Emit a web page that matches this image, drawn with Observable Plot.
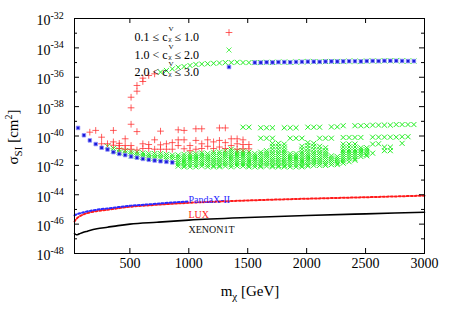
<!DOCTYPE html>
<html><head><meta charset="utf-8">
<script src="https://cdn.jsdelivr.net/npm/d3@7"></script>
<script src="https://cdn.jsdelivr.net/npm/@observablehq/plot@0.6"></script>
<style>
html,body{margin:0;padding:0;background:#fff}
svg{font-family:"Liberation Serif","DejaVu Serif",serif}
</style>
</head><body><div id="chart"></div>
<script>
// ---------- data ----------
const xTicks = [500, 1000, 1500, 2000, 2500, 3000];
const yMajorExp = [-48, -46, -44, -42, -40, -38, -36, -34, -32];
const yMinorExp = [-47, -45, -43, -41, -39, -37, -35, -33];

const legendLead = ["0.1 \u2264 c", "1.0 < c", "2.0 < c"];
const legendTail = ["\u2264 1.0", "\u2264 2.0", "\u2264 3.0"];
const curveNames = ["PandaX-II", "LUX", "XENON1T"];

// [mass GeV, log10 sigma]
const pandax = [[30,-45.4],[60,-45.3],[110,-45.19],[160,-45.1],[220,-45.02],[310,-44.93],[400,-44.84],[500,-44.75],[600,-44.69],[730,-44.61],[850,-44.53],[1000,-44.46]];
const lux = [[30,-45.82],[45,-45.65],[70,-45.48],[100,-45.36],[140,-45.25],[200,-45.14],[310,-45.02],[400,-44.92],[500,-44.82],[730,-44.68],[1000,-44.55],[1500,-44.39],[2000,-44.27],[2500,-44.17],[3000,-44.06]];
const xenon = [[30,-46.64],[45,-46.72],[60,-46.7],[80,-46.63],[100,-46.57],[140,-46.48],[220,-46.32],[310,-46.21],[400,-46.1],[500,-46.0],[730,-45.87],[1000,-45.73],[1500,-45.55],[2000,-45.41],[2500,-45.3],[3000,-45.19]];

// 0.1 <= c <= 1.0
const redPts = [[510,-39.2],[510,-38.08],[510,-37.36],[560,-39.7],[560,-36.95],[560,-36.56],[610,-36.29],[610,-36.06],[660,-35.88],[710,-35.77],
[160,-39.74],[210,-39.62],[260,-40.08],[260,-40.53],[310,-40.53],[360,-39.62],[360,-40.4],[360,-40.63],[410,-40.5],[410,-40.65],[410,-40.85],
[460,-40.19],[460,-40.65],[460,-40.9],[510,-40.65],[510,-40.9],[560,-40.95],[610,-40.53],[610,-40.85],[660,-40.58],[660,-40.85],[710,-40.26],[710,-40.9],
[760,-39.67],[760,-40.6],[760,-40.9],[810,-40.53],[810,-40.9],[860,-40.45],[860,-40.9],[910,-39.58],[910,-40.26],[910,-40.65],[960,-39.62],[960,-40.26],[960,-40.87],
[1010,-40.65],[1010,-41.0],[1060,-39.51],[1060,-40.3],[1060,-40.9],[1110,-39.51],[1110,-40.53],[1110,-40.85],[1160,-40.26],[1160,-40.7],[1210,-40.4],[1210,-40.85],
[1260,-39.45],[1260,-40.3],[1260,-40.75],[1310,-39.45],[1310,-40.45],[1310,-40.85],[1360,-40.19],[1360,-40.65],[1410,-40.19],[1410,-40.53],[1410,-40.9],
[1460,-40.26],[1460,-40.58],[1460,-40.87],[1510,-40.58],[1510,-40.87]];

// 2.0 < c <= 3.0
const bluePts = [[60,-39.45],[110,-39.95],[160,-40.3],[210,-40.55],[260,-40.8],[310,-40.92],[360,-41.1],[410,-41.22],[460,-41.3],[510,-41.4],[560,-41.48],[610,-41.56],[660,-41.62],[710,-41.67],[760,-41.72],[810,-41.76],[860,-41.8],
[1560,-35.0],[1610,-35.0],[1660,-34.98],[1710,-34.99],[1760,-34.97],[1810,-34.97],[1860,-34.98],[1910,-34.96],[1960,-34.95],[2010,-34.94],[2060,-34.94],[2110,-34.95],[2160,-34.93],[2210,-34.92],[2260,-34.93],[2310,-34.92],[2360,-34.91],[2410,-34.91],[2460,-34.92],[2510,-34.9],[2560,-34.89],[2610,-34.9],[2660,-34.88],[2710,-34.88],[2760,-34.88],[2810,-34.89],[2860,-34.9],[2910,-34.9]];

// 1.0 < c <= 2.0 : scattered rows
const greenPts = [[760,-35.65],[810,-35.54],[860,-35.43],[910,-35.32],[960,-35.27],[1010,-35.2],[1060,-35.13],[1110,-35.1],[1160,-35.08],[1210,-35.05],[1260,-35.03],[1310,-35.0],[1360,-35.0],[1410,-34.98],[1460,-35.0],[1510,-35.0],
[1560,-35.0],[1610,-35.0],[1660,-34.98],[1710,-34.99],[1760,-34.97],[1810,-34.97],[1860,-34.98],[1910,-34.96],[1960,-34.95],[2010,-34.94],[2060,-34.94],[2110,-34.95],[2160,-34.93],[2210,-34.92],[2260,-34.93],[2310,-34.92],[2360,-34.91],[2410,-34.91],[2460,-34.92],[2510,-34.9],[2560,-34.89],[2610,-34.9],[2660,-34.88],[2710,-34.88],[2760,-34.88],[2810,-34.89],[2860,-34.9],[2910,-34.9],
[1460,-39.4],[1510,-39.4],[1610,-39.44],[1660,-39.44],[1710,-39.44],[1810,-39.44],[1860,-39.44],[1910,-39.44],[2010,-39.4],[2060,-39.4],[2110,-39.4],[2210,-39.38],[2260,-39.38],[2310,-39.3],[2410,-39.3],[2460,-39.3],[2510,-39.3],[2560,-39.26],[2610,-39.26],[2660,-39.26],[2710,-39.26],[2760,-39.22],[2810,-39.22],[2860,-39.22],[2910,-39.22],
[1610,-40.15],[1660,-40.15],[1710,-40.15],[1860,-40.15],[1910,-40.15],[1960,-40.15],[2110,-40.15],[2160,-40.15],[2210,-40.15],[2310,-40.1],[2360,-40.1],[2410,-40.1],[2460,-40.1],[2560,-40.08],[2610,-40.08],[2660,-40.08],[2710,-40.08],[2760,-40.08],[2810,-40.05],[2860,-40.05],
[2560,-40.55],[2560,-41.17],[2610,-40.53],[2660,-40.76],[2660,-41.0],[2710,-40.76],[2710,-41.0],[2810,-40.5]];

// 1.0 < c <= 2.0 : dense band, per mass column
const greenCols = [
[310,[-40.7]],[360,[-40.85,-41.0]],[410,[-40.95,-41.1]],[460,[-41.0,-41.15]],[510,[-41.05,-41.2,-41.35]],[560,[-41.1,-41.25,-41.4]],
[610,[-41.15,-41.3,-41.45]],[660,[-41.2,-41.35,-41.5]],[710,[-41.2,-41.35,-41.5]],[760,[-41.2,-41.35,-41.5]],[810,[-41.25,-41.4,-41.55]],[860,[-41.3,-41.45,-41.6]],
[910,[-41.3,-41.45,-41.6,-41.75,-41.9,-42.05]],
[960,[-41.25,-41.4,-41.55,-41.7,-41.85,-42.0,-42.1]],
[1010,[-41.2,-41.35,-41.5,-41.65,-41.8,-41.95,-42.1]],
[1060,[-41.2,-41.35,-41.5,-41.65,-41.8,-41.95,-42.1]],
[1110,[-41.15,-41.3,-41.45,-41.6,-41.75,-41.9,-42.05]],
[1160,[-41.2,-41.35,-41.5,-41.65,-41.8,-41.95,-42.1]],
[1210,[-41.1,-41.25,-41.4,-41.55,-41.7,-41.85,-42.0,-42.1]],
[1260,[-41.1,-41.25,-41.4,-41.55,-41.7,-41.85,-42.0,-42.1]],
[1310,[-41.0,-41.15,-41.3,-41.45,-41.6,-41.75,-41.9,-42.05]],
[1360,[-40.9,-41.05,-41.2,-41.35,-41.5,-41.65,-41.8,-41.95,-42.1]],
[1410,[-41.0,-41.15,-41.3,-41.45,-41.6,-41.75,-41.9,-42.05]],
[1460,[-41.0,-41.15,-41.3,-41.45,-41.6,-41.75,-41.9,-42.05]],
[1510,[-41.1,-41.25,-41.4,-41.55,-41.7,-41.85,-42.0,-42.1]],
[1560,[-41.2,-41.35,-41.5,-41.65,-41.8,-41.95,-42.1]],
[1610,[-41.1,-41.25,-41.4,-41.55,-41.7,-41.85,-42.0,-42.1]],
[1660,[-41.0,-41.15,-41.3,-41.45,-41.6,-41.75,-41.9,-42.05]],
[1710,[-40.5,-40.7,-40.9,-41.1,-41.25,-41.4,-41.55,-41.7,-41.85,-42.0,-42.1]],
[1760,[-40.5,-40.7,-40.9,-41.1,-41.25,-41.4,-41.55,-41.7,-41.85,-42.0,-42.1]],
[1810,[-40.55,-40.75,-40.95,-41.1,-41.25,-41.4,-41.55,-41.7,-41.85,-42.0,-42.1]],
[1860,[-41.2,-41.35,-41.5,-41.65,-41.8,-41.95,-42.1]],
[1910,[-41.2,-41.35,-41.5,-41.65,-41.8,-41.95,-42.1]],
[1960,[-40.7,-40.9,-41.1,-41.25,-41.4,-41.55,-41.7,-41.85,-42.0,-42.1]],
[2010,[-40.45,-40.65,-40.85,-41.05,-41.2,-41.35,-41.5,-41.65,-41.8,-41.95,-42.05]],
[2060,[-40.5,-40.7,-40.9,-41.1,-41.25,-41.4,-41.55,-41.7,-41.85,-42.0]],
[2110,[-40.7,-40.9,-41.1,-41.25,-41.4,-41.55,-41.7,-41.85,-42.0]],
[2160,[-40.8,-41.0,-41.15,-41.3,-41.45,-41.6,-41.75,-41.9,-42.0]],
[2210,[-41.35,-41.5,-41.65,-41.8,-41.95]],
[2260,[-41.4,-41.55,-41.7,-41.85,-41.95]],
[2310,[-40.55,-40.75,-40.95,-41.1,-41.25,-41.4,-41.55,-41.7,-41.85]],
[2360,[-40.55,-40.75,-40.95,-41.1,-41.25,-41.4,-41.55,-41.75]],
[2410,[-40.55,-40.75,-40.95,-41.1,-41.25,-41.4,-41.55,-41.65]],
[2460,[-40.8,-40.95,-41.1,-41.25,-41.4]],
[2510,[-40.8,-40.95,-41.1,-41.25,-41.35]]];

// ---------- layout ----------
const W = 452, H = 316, mL = 74, mT = 18, mR = 28, mB = 63;
const fw = W - mL - mR, fh = H - mT - mB;
const greenBand = greenCols.flatMap(([m, ls]) => ls.map(l => [m, l]));
const P = d => 10 ** d[1];
const ink = "#000";
const cRed = "#ff2a2a", cGreen = "#22ee22", cBlue = "#1a1ad8", cBlueEdge = "#9090ff";

const legendColors = [cRed, cGreen, cBlue];
const legendSymbols = ["plus", "times", "square"];
const rowDy = [14, 31.5, 49];

const legendMarks = legendLead.flatMap((lead, i) => [
  Plot.text([lead], {frameAnchor: "top-left", text: d => d, dx: 93, dy: rowDy[i], textAnchor: "end", fontSize: 12, fill: ink}),
  Plot.text(["V"], {frameAnchor: "top-left", text: d => d, dx: 94, dy: rowDy[i] - 6, textAnchor: "start", fontSize: 7, fill: ink}),
  Plot.text(["\u03c7"], {frameAnchor: "top-left", text: d => d, dx: 94, dy: rowDy[i] + 3.8, textAnchor: "start", fontSize: 7, fill: ink}),
  Plot.text([legendTail[i]], {frameAnchor: "top-left", text: d => d, dx: 100, dy: rowDy[i], textAnchor: "start", fontSize: 12, fill: ink}),
  i === 2
    ? Plot.dot([0], {frameAnchor: "top-left", dx: 154.5, dy: rowDy[i] - 0.5, symbol: "square", r: 2.0, fill: cBlue, stroke: cBlueEdge, strokeWidth: 0.8})
    : Plot.dot([0], {frameAnchor: "top-left", dx: 154.5, dy: rowDy[i], symbol: legendSymbols[i], r: i === 0 ? 2.3 : 2.4, stroke: legendColors[i], strokeWidth: 1, strokeOpacity: 0.75})
]);

const curveColors = ["#2a2aff", "#ff1a1a", "#111"];
const curveDy = [177, 192.7, 207];
const curveLabelMarks = curveNames.map((n, i) =>
  Plot.text([n], {frameAnchor: "top-left", text: d => d, dx: 114, dy: curveDy[i], textAnchor: "start", fontSize: 10, fill: curveColors[i]}));

const chart = Plot.plot({
  width: W, height: H,
  marginLeft: mL, marginTop: mT, marginRight: mR, marginBottom: mB,
  x: {domain: [30, 3000], axis: null},
  y: {type: "log", domain: [1e-48, 1e-32], axis: null},
  style: {fontFamily: "'Liberation Serif', 'DejaVu Serif', serif", background: "#fff", overflow: "visible"},
  marks: [
    // data points
    Plot.dot(greenBand, {x: d => d[0], y: P, symbol: "times", r: 2.4, stroke: cGreen, strokeWidth: 1}),
    Plot.dot(greenPts, {x: d => d[0], y: P, symbol: "times", r: 2.4, stroke: cGreen, strokeWidth: 1}),
    Plot.dot(redPts, {x: d => d[0], y: P, symbol: "plus", r: 2.3, stroke: cRed, strokeWidth: 1, strokeOpacity: 0.75}),
    Plot.dot(bluePts, {x: d => d[0], y: P, symbol: "square", r: 2.0, fill: cBlue, stroke: cBlueEdge, strokeWidth: 0.8}),
    // exclusion limits
    Plot.line(xenon, {x: d => d[0], y: P, stroke: "#000", strokeWidth: 1.6, curve: "monotone-x"}),
    Plot.line(lux, {x: d => d[0], y: P, stroke: "#ff1a1a", strokeWidth: 2, strokeDasharray: "2,2", curve: "monotone-x"}),
    Plot.line(pandax, {x: d => d[0], y: P, stroke: "#2a2aff", strokeWidth: 2, strokeDasharray: "2,2", curve: "monotone-x"}),
    // frame & inward ticks
    Plot.frame({stroke: ink, strokeWidth: 1}),
    Plot.tickY(yMajorExp, {y: d => 10 ** d, insetRight: fw - 5, stroke: ink}),
    Plot.tickY(yMajorExp, {y: d => 10 ** d, insetLeft: fw - 5, stroke: ink}),
    Plot.tickY(yMinorExp, {y: d => 10 ** d, insetRight: fw - 3, stroke: ink}),
    Plot.tickY(yMinorExp, {y: d => 10 ** d, insetLeft: fw - 3, stroke: ink}),
    Plot.tickX(xTicks, {x: d => d, insetTop: fh - 5, stroke: ink}),
    Plot.tickX(xTicks, {x: d => d, insetBottom: fh - 5, stroke: ink}),
    // tick labels
    Plot.text(xTicks, {x: d => d, frameAnchor: "bottom", text: d => String(d), dy: 14, fontSize: 14, fill: ink}),
    Plot.text(yMajorExp, {y: d => 10 ** d, frameAnchor: "left", text: () => "10", textAnchor: "end", dx: -24, dy: 2.5, fontSize: 14, fill: ink}),
    Plot.text(yMajorExp, {y: d => 10 ** d, frameAnchor: "left", text: d => String(d), textAnchor: "start", dx: -24, dy: -3, fontSize: 10, fill: ink}),
    ...curveLabelMarks,
    ...legendMarks
  ]
});

const svg = d3.select(chart);
const xt = svg.append("text").attr("x", 250).attr("y", 296).attr("text-anchor", "middle")
  .attr("font-size", 15).attr("fill", ink);
xt.append("tspan").text("m");
xt.append("tspan").attr("dy", 4).attr("font-size", 11).text("\u03c7");
xt.append("tspan").attr("dy", -4).text(" [GeV]");

const yt = svg.append("text").attr("transform", "translate(17.5,137) rotate(-90)").attr("text-anchor", "middle")
  .attr("font-size", 15).attr("fill", ink);
yt.append("tspan").text("\u03c3");
yt.append("tspan").attr("dy", 4).attr("font-size", 11).text("SI");
yt.append("tspan").attr("dy", -4).text(" [cm");
yt.append("tspan").attr("dy", -6).attr("font-size", 10).text("2");
yt.append("tspan").attr("dy", 6).text("]");

document.getElementById("chart").appendChild(chart);
</script></body></html>
